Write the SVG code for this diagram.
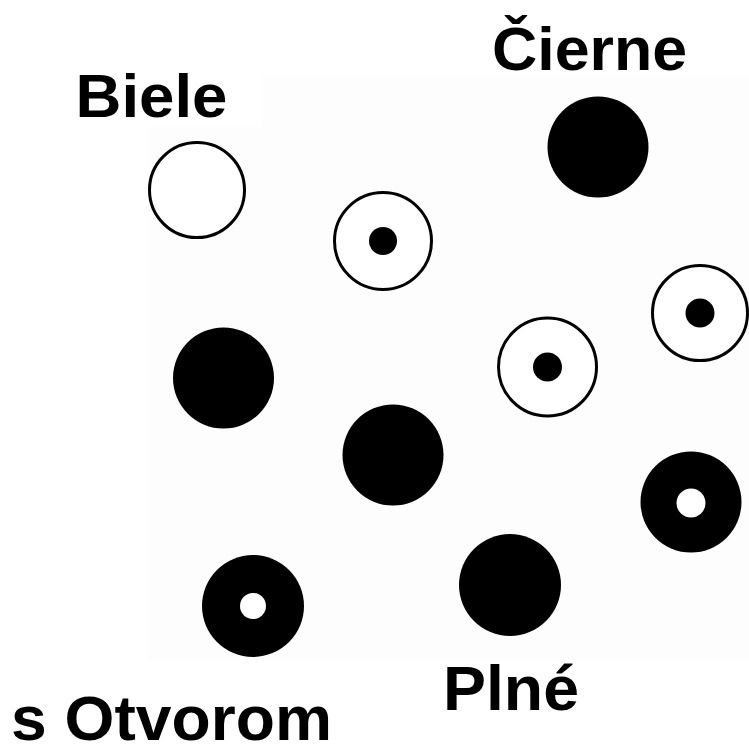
<svg xmlns="http://www.w3.org/2000/svg" width="749" height="746" viewBox="0 0 749 746">
  <style>
    .lbl { font-family: "Liberation Sans", Arial, sans-serif; font-weight: bold; fill: #000; }
    .ring { fill: #fff; stroke: #000; stroke-width: 3; }
    .solid { fill: #000; }
    .hole { fill: #fff; }
  </style>
  <rect width="749" height="746" fill="#fff"/>
  <rect x="148" y="76" width="601" height="584" fill="#fdfdfd"/>
  <rect x="148" y="76" width="114" height="51" fill="#fff"/>

  <g id="labels">
    <text class="lbl" x="75.5" y="117" font-size="62" textLength="152" lengthAdjust="spacingAndGlyphs">Biele</text>
    <text class="lbl" x="492" y="70" font-size="62" textLength="195" lengthAdjust="spacingAndGlyphs">Čierne</text>
    <text class="lbl" x="443" y="710" font-size="63" textLength="136" lengthAdjust="spacingAndGlyphs">Plné</text>
    <text class="lbl" x="11" y="740" font-size="63" textLength="321" lengthAdjust="spacingAndGlyphs">s Otvorom</text>
  </g>

  <g id="white-1"><circle class="ring" cx="197" cy="190" r="47.5"/></g>
  <g id="dotted-1"><circle class="ring" cx="383" cy="241" r="48.5"/><circle class="solid" cx="383" cy="241" r="14"/></g>
  <g id="black-1"><circle class="solid" cx="598" cy="147" r="50.5"/></g>
  <g id="black-2"><circle class="solid" cx="223.5" cy="378" r="50.5"/></g>
  <g id="black-3"><circle class="solid" cx="393" cy="455" r="50.5"/></g>
  <g id="dotted-2"><circle class="ring" cx="547.5" cy="367" r="49"/><circle class="solid" cx="547.5" cy="367" r="14.5"/></g>
  <g id="dotted-3"><circle class="ring" cx="700" cy="313" r="47.5"/><circle class="solid" cx="700" cy="313" r="14.5"/></g>
  <g id="donut-1"><circle class="solid" cx="691" cy="502" r="50.5"/><circle class="hole" cx="691" cy="503" r="14.5"/></g>
  <g id="donut-2"><circle class="solid" cx="253" cy="606" r="51"/><circle class="hole" cx="253" cy="606" r="13"/></g>
  <g id="black-4"><circle class="solid" cx="510" cy="585" r="51"/></g>
</svg>
